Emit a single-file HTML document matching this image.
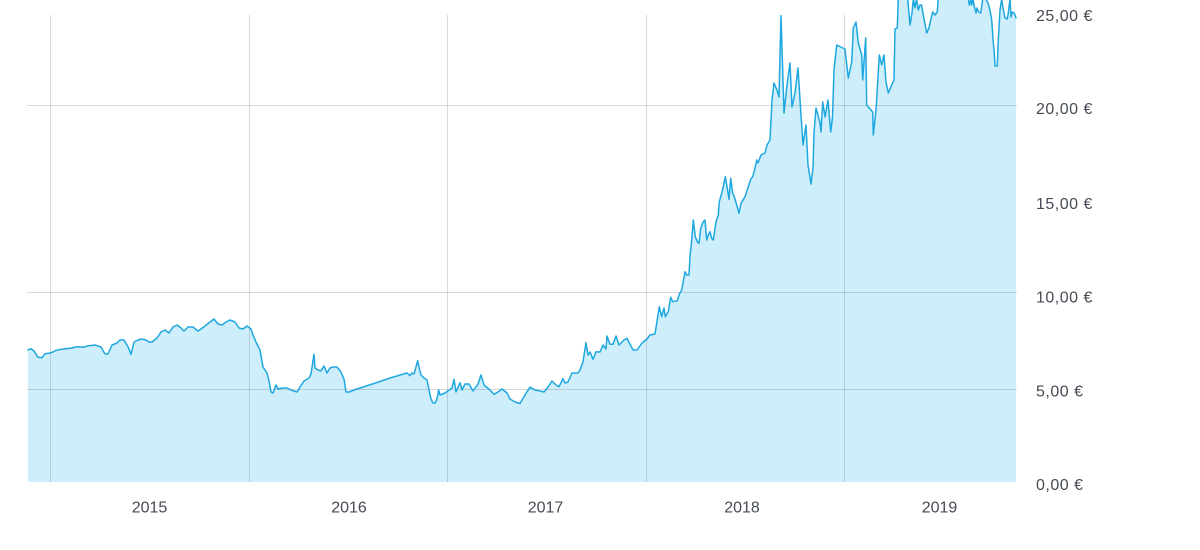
<!DOCTYPE html>
<html>
<head>
<meta charset="utf-8">
<style>
html,body{margin:0;padding:0;background:#fff;}
svg{display:block;}
text{font-family:"Liberation Sans",sans-serif;fill:#464b55;font-size:16px;}
</style>
</head>
<body>
<svg width="1200" height="550" viewBox="0 0 1200 550" xmlns="http://www.w3.org/2000/svg">
<defs>
<clipPath id="c"><rect x="27" y="0" width="990" height="482"/></clipPath>
</defs>
<g clip-path="url(#c)">
<path fill="#cdeefa" stroke="none" d="M28,482 L28,350 31,348.7 34,351 38,357.3 42,357.7 45,353.7 50,353 53,352 56,350.3 63,349 72,348 77,346.7 84,347.3 87,346 95,345 101,347 105,354 108,354 112,345 117,343 120,340 124,340 128,346.7 131,354.3 134,342 138,340 142,339 146,340 149,342 152,342 157,338 161,332 165,330 169,333 173,327 177,325 181,328 184,331 188,327 193,327 198,331 201,329 205,326 210,322 214,319 218,324 222,325 226,322 230,320 235,322 239,328 243,329 247,326 251,329 253,335 256,342 260,350 263,367 267,373 269,381 271,392 273,393 276,385 278,389 283,388 287,388 291,390 297,392 300,387 304,381 309,378 311,374 314,354.3 315,368 318,370 321,371 324,366 327,373 330,368 333,367 337,367 341,372 344,379 346,392 349,392 354,390 380,381.5 390,378 407,373 410,375.7 412,373 414,374 417.7,360.7 419,367 421,375 424,378 427,380 429.3,391 430.7,398 432.7,402.7 434.7,403.3 436.7,400 438.7,390 440,395 445,393 452,388 454,379.3 456,392 460,382.7 462,390 465,384 469,384 473,391 478,384 481,375 484,385 490,390 494,394.3 498,392 502,389 507,393 510,399 515,402 520,403.5 525,395 530,387 535,390 540,391 544,392 548,387 552,381 556,385 559,386.7 563,378.7 565,383 568,382 572,373 575,373 578,373 580,370 583,361.7 586,342.7 588,355 590,352 593,359.3 596,351.7 600,352 603,345 606,349 607,336 610,344.3 613,344.3 616,336 619,345 624,340 627,338.3 633,350 637,350 642,343 647,339 650,335 655,334 659.3,306.7 661.7,316.7 664,308 665.3,316.7 668.3,311.7 670.7,297.3 672.7,301.7 677.3,300.7 679.3,294.3 681.7,290 685,271.7 686.7,275 689,275 690,256.7 691.7,240 693.3,220 695.3,236.7 697.3,241.7 699,243.3 700.7,228.3 703.3,221.7 705,220 706.7,240 708.3,235 710,231.7 711.7,238.3 713.3,240 716,221.7 718.3,215 719.3,201.7 721.7,193.3 723.3,186.7 725.3,176.7 727.3,188.3 729,199.3 730.7,178.3 732.7,193.3 734.3,196.7 736.7,205 739,213.3 741,203.3 745,196.7 748.3,186.7 750.7,179.3 752.7,176.7 755,168.3 756.7,160 758,163 761,155 765,153 767,145 770,140 772,100 774,83 777,90 779,97 781,15.7 784,113 787,85 790,63 792,107 795,93 798,68 801,115 803,145 806,125 808,165 811,184 813,168 814,133 816,108 818,115 820,123 821,132 822.7,102 825,117 828,100 830.7,132 832.5,117 834,70 836.7,45 845,49 848.3,78 851.7,62 853.3,28 856,22 858.3,43 861.7,55 862.7,80 865.7,38 866.7,105 872.7,112 873.3,135 876,110 879.3,55 881.7,65 884,55 886,82 888.3,93 891.7,85 894,80 895,29 897.3,28 898.3,-3 906,-5 907.7,-1 910,25 912,13 913.3,-1 915,8 916.5,-1 918.3,10 920,5 921.5,5 923.3,15 926.7,33 929,28 930.7,20 932.7,12 935,15 937.3,12 938.3,-3 950,-10 966,-5 968.3,-1 969.3,5 971,-1 971.7,5 973,-1 974,5 976,13 977,8 978.7,12 980.7,13 981.5,8 982.7,-1 986,-1 988,3 990,10 991.7,20 993.3,43 994.3,53 995,66 997.3,66 998.3,40 1000,10 1001.7,-1 1003,8 1005,18 1007.3,19 1008.3,13 1010,-1 1011,17 1012.5,12 1014.3,13 1016,18 L1016,482 Z"/>
</g>
<g stroke="rgba(110,120,130,0.28)" stroke-width="1" fill="none">
<line x1="27" y1="105.5" x2="1017" y2="105.5"/>
<line x1="27" y1="292.5" x2="1017" y2="292.5"/>
<line x1="27" y1="389.5" x2="1017" y2="389.5"/>
<line x1="50.5" y1="15" x2="50.5" y2="482"/>
<line x1="249.5" y1="15" x2="249.5" y2="482"/>
<line x1="447.5" y1="15" x2="447.5" y2="482"/>
<line x1="646.5" y1="15" x2="646.5" y2="482"/>
<line x1="844.5" y1="15" x2="844.5" y2="482"/>
</g>
<g clip-path="url(#c)">
<polyline fill="none" stroke="#1fa8e0" stroke-width="1.5" stroke-linejoin="round" stroke-linecap="round" points="28,350 31,348.7 34,351 38,357.3 42,357.7 45,353.7 50,353 53,352 56,350.3 63,349 72,348 77,346.7 84,347.3 87,346 95,345 101,347 105,354 108,354 112,345 117,343 120,340 124,340 128,346.7 131,354.3 134,342 138,340 142,339 146,340 149,342 152,342 157,338 161,332 165,330 169,333 173,327 177,325 181,328 184,331 188,327 193,327 198,331 201,329 205,326 210,322 214,319 218,324 222,325 226,322 230,320 235,322 239,328 243,329 247,326 251,329 253,335 256,342 260,350 263,367 267,373 269,381 271,392 273,393 276,385 278,389 283,388 287,388 291,390 297,392 300,387 304,381 309,378 311,374 314,354.3 315,368 318,370 321,371 324,366 327,373 330,368 333,367 337,367 341,372 344,379 346,392 349,392 354,390 380,381.5 390,378 407,373 410,375.7 412,373 414,374 417.7,360.7 419,367 421,375 424,378 427,380 429.3,391 430.7,398 432.7,402.7 434.7,403.3 436.7,400 438.7,390 440,395 445,393 452,388 454,379.3 456,392 460,382.7 462,390 465,384 469,384 473,391 478,384 481,375 484,385 490,390 494,394.3 498,392 502,389 507,393 510,399 515,402 520,403.5 525,395 530,387 535,390 540,391 544,392 548,387 552,381 556,385 559,386.7 563,378.7 565,383 568,382 572,373 575,373 578,373 580,370 583,361.7 586,342.7 588,355 590,352 593,359.3 596,351.7 600,352 603,345 606,349 607,336 610,344.3 613,344.3 616,336 619,345 624,340 627,338.3 633,350 637,350 642,343 647,339 650,335 655,334 659.3,306.7 661.7,316.7 664,308 665.3,316.7 668.3,311.7 670.7,297.3 672.7,301.7 677.3,300.7 679.3,294.3 681.7,290 685,271.7 686.7,275 689,275 690,256.7 691.7,240 693.3,220 695.3,236.7 697.3,241.7 699,243.3 700.7,228.3 703.3,221.7 705,220 706.7,240 708.3,235 710,231.7 711.7,238.3 713.3,240 716,221.7 718.3,215 719.3,201.7 721.7,193.3 723.3,186.7 725.3,176.7 727.3,188.3 729,199.3 730.7,178.3 732.7,193.3 734.3,196.7 736.7,205 739,213.3 741,203.3 745,196.7 748.3,186.7 750.7,179.3 752.7,176.7 755,168.3 756.7,160 758,163 761,155 765,153 767,145 770,140 772,100 774,83 777,90 779,97 781,15.7 784,113 787,85 790,63 792,107 795,93 798,68 801,115 803,145 806,125 808,165 811,184 813,168 814,133 816,108 818,115 820,123 821,132 822.7,102 825,117 828,100 830.7,132 832.5,117 834,70 836.7,45 845,49 848.3,78 851.7,62 853.3,28 856,22 858.3,43 861.7,55 862.7,80 865.7,38 866.7,105 872.7,112 873.3,135 876,110 879.3,55 881.7,65 884,55 886,82 888.3,93 891.7,85 894,80 895,29 897.3,28 898.3,-3 906,-5 907.7,-1 910,25 912,13 913.3,-1 915,8 916.5,-1 918.3,10 920,5 921.5,5 923.3,15 926.7,33 929,28 930.7,20 932.7,12 935,15 937.3,12 938.3,-3 950,-10 966,-5 968.3,-1 969.3,5 971,-1 971.7,5 973,-1 974,5 976,13 977,8 978.7,12 980.7,13 981.5,8 982.7,-1 986,-1 988,3 990,10 991.7,20 993.3,43 994.3,53 995,66 997.3,66 998.3,40 1000,10 1001.7,-1 1003,8 1005,18 1007.3,19 1008.3,13 1010,-1 1011,17 1012.5,12 1014.3,13 1016,18"/>
</g>
<g letter-spacing="0.5">
<text x="1036" y="21">25,00 €</text>
<text x="1036" y="114">20,00 €</text>
<text x="1036" y="209">15,00 €</text>
<text x="1036" y="302.5">10,00 €</text>
<text x="1036" y="396.5">5,00 €</text>
<text x="1036" y="490">0,00 €</text>
</g>
<g text-anchor="middle">
<text x="149.5" y="512.5">2015</text>
<text x="349" y="512.5">2016</text>
<text x="545.5" y="512.5">2017</text>
<text x="742" y="512.5">2018</text>
<text x="939.5" y="512.5">2019</text>
</g>
</svg>
</body>
</html>
